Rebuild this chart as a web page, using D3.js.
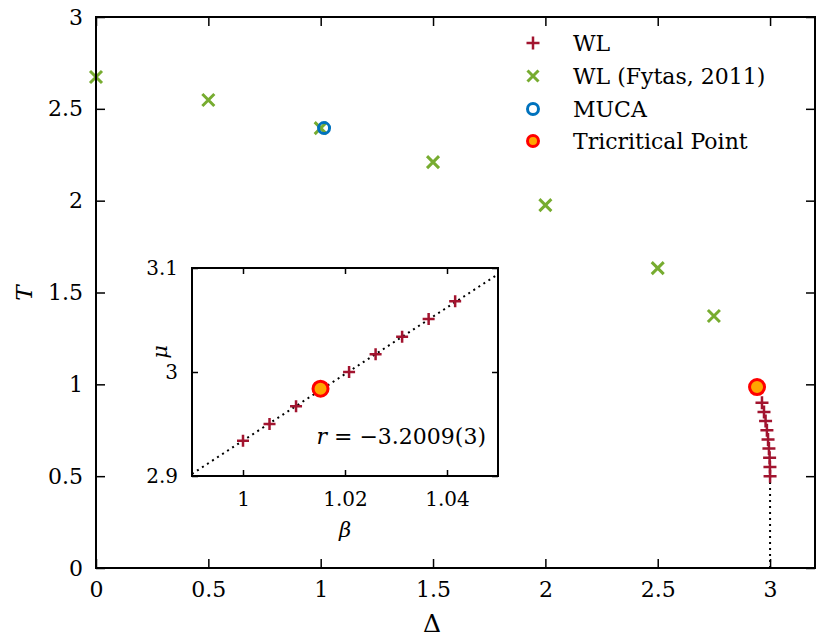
<!DOCTYPE html>
<html>
<head>
<meta charset="utf-8">
<script src="https://cdn.jsdelivr.net/npm/d3@7/dist/d3.min.js"></script>
<style>
  body { margin: 0; background: #fff; }
  svg text { font-family: "DejaVu Serif", "Liberation Serif", "Times New Roman", serif; fill: #000; }
</style>
</head>
<body>
<svg id="chart" width="830" height="637"></svg>
<script>
// main panel data: Delta vs T
const wlDelta = [2.964, 2.973, 2.980, 2.986, 2.991, 2.995, 2.998, 2.9995, 3.0];
const wlT = [0.90, 0.85, 0.80, 0.75, 0.70, 0.65, 0.60, 0.55, 0.50];
const fytasDelta = [0, 0.5, 1.0, 1.5, 2.0, 2.5, 2.75];
const fytasT = [2.673, 2.548, 2.395, 2.210, 1.976, 1.633, 1.372];
const mucaDelta = [1.015];
const mucaT = [2.395];
const tcpDelta = [2.942];
const tcpT = [0.985];
const groundDelta = [3.0, 3.0];
const groundT = [0.0, 0.5];

// inset data: beta vs mu
const insetBeta = [1.0, 1.0052, 1.0104, 1.0208, 1.026, 1.0312, 1.0364, 1.0416];
const insetMu = [2.934, 2.950, 2.967, 3.000, 3.017, 3.034, 3.051, 3.068];
const insetTcpBeta = [1.0152];
const insetTcpMu = [2.984];
const fitBeta = [0.99, 1.05];
const fitMu = [2.902, 3.094];

const mainXTicks = [0, 0.5, 1, 1.5, 2, 2.5, 3];
const mainYTicks = [0, 0.5, 1, 1.5, 2, 2.5, 3];
const insetXTicks = [1, 1.02, 1.04];
const insetYTicks = [2.9, 3, 3.1];

const legendLabels = ["WL", "WL (Fytas, 2011)", "MUCA", "Tricritical Point"];

const colWL = "#a2142f", colFy = "#77ac30", colMu = "#0072bd", colTcpS = "#ff0000", colTcpF = "#ffa500";
const FONT = '"DejaVu Serif", "Liberation Serif", "Times New Roman", serif';

const svg = d3.select("#chart");
const zip = (a, b) => a.map((v, i) => [v, b[i]]);

// main scales
const x = d3.scaleLinear().domain([0, 3.2]).range([96, 815]);
const y = d3.scaleLinear().domain([0, 3]).range([568, 17]);

// inset scales
const ix = d3.scaleLinear().domain([0.99, 1.05]).range([192, 498]);
const iy = d3.scaleLinear().domain([2.9, 3.1]).range([476, 268]);

function frame(sx, sy, xt, yt, tickLen, fs, fmt, xOff, yOff) {
  const [x0, x1] = sx.range(), [y0, y1] = sy.range();
  const g = svg.append("g");
  // inward ticks on all four sides
  g.append("g").attr("transform", `translate(0,${y0})`)
    .call(d3.axisBottom(sx).tickValues(xt).tickSize(-tickLen).tickPadding(xOff).tickFormat(fmt))
    .call(s => s.select(".domain").remove());
  g.append("g").attr("transform", `translate(0,${y1})`)
    .call(d3.axisTop(sx).tickValues(xt).tickSize(-tickLen).tickFormat(""))
    .call(s => s.select(".domain").remove());
  g.append("g").attr("transform", `translate(${x0},0)`)
    .call(d3.axisLeft(sy).tickValues(yt).tickSize(-tickLen).tickPadding(yOff).tickFormat(fmt))
    .call(s => s.select(".domain").remove());
  g.append("g").attr("transform", `translate(${x1},0)`)
    .call(d3.axisRight(sy).tickValues(yt).tickSize(-tickLen).tickFormat(""))
    .call(s => s.select(".domain").remove());
  g.selectAll("g").attr("font-family", FONT);
  g.selectAll(".tick line").attr("stroke", "#000").attr("stroke-width", 1.5);
  g.selectAll(".tick text").attr("font-size", fs).attr("font-family", FONT).attr("fill", "#000");
  return g;
}

function plus(g, pts, sx, sy, r, col, w) {
  g.selectAll(null).data(pts).join("path")
    .attr("d", d => `M${sx(d[0]) - r},${sy(d[1])}h${2 * r}M${sx(d[0])},${sy(d[1]) - r}v${2 * r}`)
    .attr("stroke", col).attr("stroke-width", w).attr("fill", "none");
}
function cross(g, pts, sx, sy, r, col, w) {
  g.selectAll(null).data(pts).join("path")
    .attr("d", d => `M${sx(d[0]) - r},${sy(d[1]) - r}l${2 * r},${2 * r}M${sx(d[0]) - r},${sy(d[1]) + r}l${2 * r},${-2 * r}`)
    .attr("stroke", col).attr("stroke-width", w).attr("fill", "none");
}
function ring(g, pts, sx, sy, r, stroke, fill, w) {
  g.selectAll(null).data(pts).join("circle")
    .attr("cx", d => sx(d[0])).attr("cy", d => sy(d[1])).attr("r", r)
    .attr("stroke", stroke).attr("stroke-width", w).attr("fill", fill);
}

// ---- main panel ----
const fmt = d => d3.format("~g")(d);
frame(x, y, mainXTicks, mainYTicks, 9, 22, fmt, 13, 13);

const mg = svg.append("g");
mg.append("path").datum(zip(groundDelta, groundT))
  .attr("d", d3.line().x(d => x(d[0])).y(d => y(d[1])))
  .attr("stroke", "#000").attr("stroke-width", 2).attr("stroke-dasharray", "2,4").attr("fill", "none");
plus(mg, zip(wlDelta, wlT), x, y, 6.5, colWL, 2.5);
cross(mg, zip(fytasDelta, fytasT), x, y, 6, colFy, 3);
ring(mg, zip(mucaDelta, mucaT), x, y, 5.5, colMu, "none", 3);
ring(mg, zip(tcpDelta, tcpT), x, y, 7.5, colTcpS, colTcpF, 3);

// main border
svg.append("rect").attr("x", 96).attr("y", 17).attr("width", 815 - 96).attr("height", 568 - 17)
  .attr("fill", "none").attr("stroke", "#000").attr("stroke-width", 2);

// axis labels
svg.append("text").attr("x", 432).attr("y", 632).attr("text-anchor", "middle")
  .style("font-size", "25px").text("Δ");
svg.append("text").attr("transform", "translate(32,293) rotate(-90)").attr("text-anchor", "middle")
  .style("font-size", "23px").style("font-style", "italic").text("T");

// legend
const legY = [43, 76, 109, 141];
const lg = svg.append("g");
plus(lg, [[0, 0]], v => 533, v => legY[0], 6.5, colWL, 2.5);
cross(lg, [[0, 0]], v => 533, v => legY[1], 5.5, colFy, 3);
ring(lg, [[0, 0]], v => 533, v => legY[2], 5.5, colMu, "none", 3);
ring(lg, [[0, 0]], v => 533, v => legY[3], 5.5, colTcpS, colTcpF, 3);
lg.selectAll("text.leg").data(legendLabels).join("text").attr("class", "leg")
  .attr("x", 573).attr("y", (d, i) => legY[i] + 8)
  .style("font-size", "22px").text(d => d);

// ---- inset ----
svg.append("rect").attr("x", 192).attr("y", 268).attr("width", 498 - 192).attr("height", 476 - 268)
  .attr("fill", "#fff");
frame(ix, iy, insetXTicks, insetYTicks, 6, 20, fmt, 16, 14);

const ig = svg.append("g");
ig.append("path").datum(zip(fitBeta, fitMu))
  .attr("d", d3.line().x(d => ix(d[0])).y(d => iy(d[1])))
  .attr("stroke", "#000").attr("stroke-width", 2).attr("stroke-dasharray", "2,4").attr("fill", "none");
plus(ig, zip(insetBeta, insetMu), ix, iy, 6, colWL, 2.5);
ring(ig, zip(insetTcpBeta, insetTcpMu), ix, iy, 7.5, colTcpS, colTcpF, 3);

svg.append("rect").attr("x", 192).attr("y", 268).attr("width", 498 - 192).attr("height", 476 - 268)
  .attr("fill", "none").attr("stroke", "#000").attr("stroke-width", 2);

// r label
const rt = svg.append("text").attr("x", 486).attr("y", 444).attr("text-anchor", "end").style("font-size", "22px");
rt.append("tspan").style("font-style", "italic").text("r");
rt.append("tspan").text(" = −3.2009(3)");

svg.append("text").attr("x", 345).attr("y", 537).attr("text-anchor", "middle")
  .style("font-size", "21px").style("font-style", "italic").text("β");
svg.append("text").attr("transform", "translate(167,352) rotate(-90)").attr("text-anchor", "middle")
  .style("font-size", "21px").style("font-style", "italic").text("μ");
</script>
</body>
</html>
